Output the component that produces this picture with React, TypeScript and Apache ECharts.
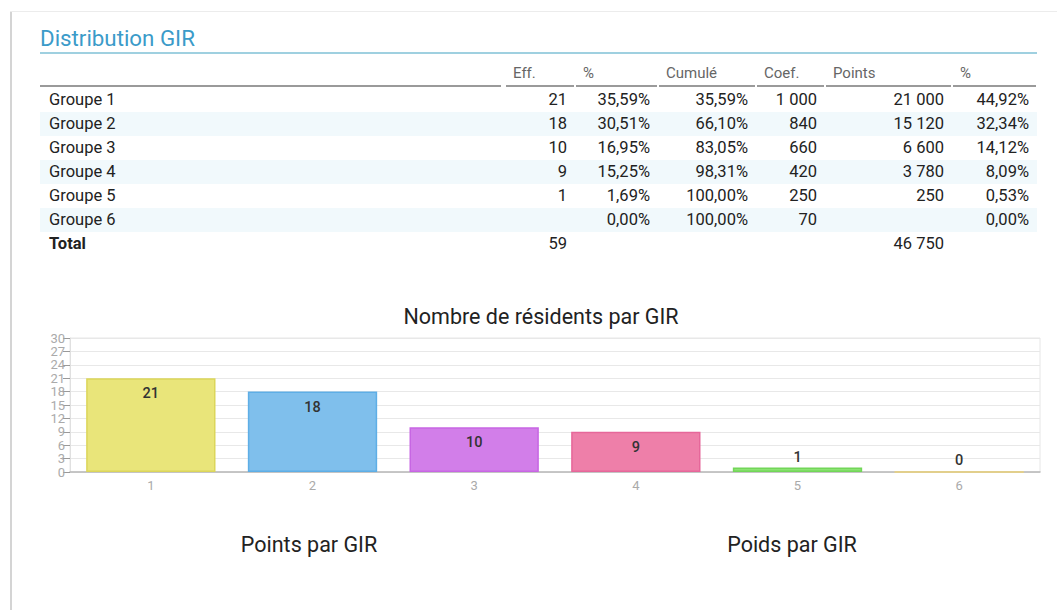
import React, { useEffect, useRef } from "react";
import * as echarts from "echarts";

// ---- Data ----
const groupNames = ["Groupe 1", "Groupe 2", "Groupe 3", "Groupe 4", "Groupe 5", "Groupe 6"];
const effValues = ["21", "18", "10", "9", "1", ""];
const pctValues = ["35,59%", "30,51%", "16,95%", "15,25%", "1,69%", "0,00%"];
const cumulValues = ["35,59%", "66,10%", "83,05%", "98,31%", "100,00%", "100,00%"];
const coefValues = ["1 000", "840", "660", "420", "250", "70"];
const pointsValues = ["21 000", "15 120", "6 600", "3 780", "250", ""];
const pctPointsValues = ["44,92%", "32,34%", "14,12%", "8,09%", "0,53%", "0,00%"];
const totalRow = ["Total", "59", "", "", "", "46 750", ""];
const headerLabels = ["", "Eff.", "%", "Cumulé", "Coef.", "Points", "%"];

const categories = ["1", "2", "3", "4", "5", "6"];
const residents = [21, 18, 10, 9, 1, 0];
const yTicks = { min: 0, max: 30, interval: 3 };

const barColors = ["#e9e57a", "#7fbfec", "#d27ee9", "#ee7fa9", "#8ce373", "#f3dc8e"];
const barBorders = ["#dcd65a", "#5eaee6", "#c766e3", "#e6679a", "#72d658", "#ecd27a"];

// ---- Layout (positions only) ----
const FONT = "Roboto, 'Noto Sans', sans-serif";
const colSpans: [number, number][] = [
  [40, 503],
  [505, 575],
  [575, 658],
  [658, 756],
  [756, 825],
  [825, 952],
  [952, 1037],
];
const ROW_TOP = 88;
const ROW_H = 24;

function Cell({ col, top, text, bold, align }: { col: number; top: number; text: string; bold?: boolean; align: "left" | "right" }) {
  const [l, r] = colSpans[col];
  return (
    <div
      style={{
        position: "absolute",
        left: l,
        width: r - l,
        top,
        height: ROW_H,
        lineHeight: ROW_H + "px",
        boxSizing: "border-box",
        paddingLeft: 9,
        paddingRight: 8,
        textAlign: align,
        fontSize: 16.5,
        fontWeight: bold ? 700 : 400,
        color: "#222",
        whiteSpace: "nowrap",
      }}
    >
      {text}
    </div>
  );
}

export default function App() {
  const ref = useRef<HTMLDivElement>(null);

  useEffect(() => {
    if (!ref.current) return;
    const chart = echarts.init(ref.current, undefined, { renderer: "svg" });
    const titleStyle = { fontSize: 21.5, fontWeight: "normal", color: "#222", fontFamily: FONT };
    chart.setOption({
      animation: false,
      textStyle: { fontFamily: FONT },
      title: [
        { text: "Nombre de résidents par GIR", left: 536, top: 300, textAlign: "center", textStyle: titleStyle },
        { text: "Points par GIR", left: 304, top: 528, textAlign: "center", textStyle: titleStyle },
        { text: "Poids par GIR", left: 787, top: 528, textAlign: "center", textStyle: titleStyle },
      ],
      grid: {
        left: 70,
        right: 17,
        top: 338,
        bottom: 138,
        show: true,
        borderColor: "#e6e6e6",
        borderWidth: 1,
      },
      xAxis: {
        type: "category",
        data: categories,
        axisLine: { lineStyle: { color: "#b8b8b8", width: 1.5 } },
        axisTick: { alignWithLabel: true, length: 5, lineStyle: { color: "#c8c8c8" } },
        axisLabel: { color: "#aaa", fontSize: 13, margin: 7, fontFamily: FONT },
        splitLine: { show: false },
      },
      yAxis: {
        type: "value",
        min: yTicks.min,
        max: yTicks.max,
        interval: yTicks.interval,
        axisLine: { show: true, lineStyle: { color: "#e0e0e0" } },
        axisTick: { show: true, length: 7, lineStyle: { color: "#999" } },
        axisLabel: {
          color: "#aaa",
          fontSize: 13,
          margin: 5,
          lineHeight: 12,
          fontFamily: FONT,
          showMinLabel: true,
          showMaxLabel: true,
          hideOverlap: false,
        },
        splitLine: { lineStyle: { color: "#e8e8e8" } },
      },
      series: [
        {
          type: "bar",
          barCategoryGap: "20%",
          data: residents.map((v, i) => ({
            value: v,
            itemStyle: { color: barColors[i], borderColor: barBorders[i], borderWidth: 1.5 },
            label: { position: v >= 3 ? "insideTop" : "top", distance: v >= 3 ? 8 : 3 },
          })),
          label: {
            show: true,
            fontSize: 14.5,
            fontWeight: 500,
            color: "#333",
            fontFamily: FONT,
          },
        },
      ],
    });
    return () => chart.dispose();
  }, []);

  const rows = groupNames.map((g, i) => [
    g,
    effValues[i],
    pctValues[i],
    cumulValues[i],
    coefValues[i],
    pointsValues[i],
    pctPointsValues[i],
  ]);

  return (
    <div
      style={{
        position: "fixed",
        left: 0,
        top: 0,
        width: 1057,
        height: 610,
        background: "#fff",
        overflow: "hidden",
        fontFamily: FONT,
      }}
    >
      {/* card edges */}
      <div style={{ position: "absolute", left: 10, top: 11, width: 2, height: 600, background: "#d4d4d4" }} />
      <div style={{ position: "absolute", left: 10, top: 11, width: 1047, height: 1, background: "#ececec" }} />

      {/* chart */}
      <div ref={ref} style={{ position: "absolute", left: 0, top: 0, width: 1057, height: 610 }} />

      {/* heading */}
      <div
        style={{
          position: "absolute",
          left: 40,
          top: 24,
          fontSize: 22.3,
          lineHeight: "28px",
          color: "#3b9bc9",
          whiteSpace: "nowrap",
        }}
      >
        Distribution GIR
      </div>
      <div style={{ position: "absolute", left: 40, top: 52, width: 997, height: 1.5, background: "#9fd0e0" }} />

      {/* table header */}
      {headerLabels.map((h, c) => {
        const [l, r] = colSpans[c];
        return (
          <div
            key={"h" + c}
            style={{
              position: "absolute",
              left: l,
              width: r - l,
              top: 61,
              height: 24,
              lineHeight: "24px",
              boxSizing: "border-box",
              paddingLeft: 8,
              fontSize: 15,
              color: "#666",
              whiteSpace: "nowrap",
            }}
          >
            {h}
          </div>
        );
      })}
      {colSpans.map(([l, r], c) => (
        <div
          key={"u" + c}
          style={{ position: "absolute", left: l + (c === 0 ? 0 : 1), width: r - l - 2, top: 84.5, height: 2, background: "#9a9a9a" }}
        />
      ))}

      {/* striped rows */}
      {rows.map((_, i) =>
        i % 2 === 1 ? (
          <div
            key={"bg" + i}
            style={{ position: "absolute", left: 40, top: ROW_TOP + i * ROW_H, width: 997, height: ROW_H, background: "#f1f9fc" }}
          />
        ) : null
      )}

      {rows.map((row, i) =>
        row.map((t, c) => (
          <Cell key={i + "-" + c} col={c} top={ROW_TOP + i * ROW_H} text={t} align={c === 0 ? "left" : "right"} />
        ))
      )}
      {totalRow.map((t, c) => (
        <Cell
          key={"t" + c}
          col={c}
          top={ROW_TOP + rows.length * ROW_H}
          text={t}
          bold={c === 0}
          align={c === 0 ? "left" : "right"}
        />
      ))}
    </div>
  );
}
